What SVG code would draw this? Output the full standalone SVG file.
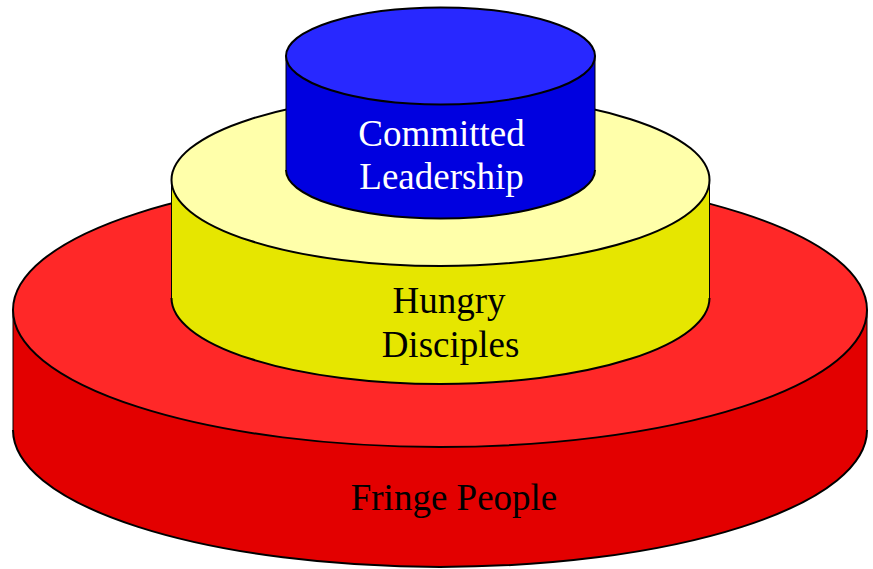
<svg xmlns="http://www.w3.org/2000/svg" width="873" height="569" viewBox="0 0 873 569">
<style>
.edge{fill:none;stroke:#000;stroke-width:2}
.vline{fill:none;stroke:#000;stroke-width:1}
.lbl{font-family:"Liberation Serif","Times New Roman",serif;font-size:37px;text-anchor:middle}
</style>
<rect width="873" height="569" fill="#fff"/>
<g id="fringe">
<path d="M13,310 L13,430 A427,137 0 0 0 867,430 L867,310 Z" fill="#E30000"/>
<path class="edge" d="M13,430 A427,137 0 0 0 867,430"/>
<path class="vline" d="M13,310 L13,430 M867,310 L867,430"/>
<ellipse cx="440" cy="310" rx="427" ry="137" fill="#FF2828" class="edge" style="fill:#FF2828"/>
<text class="lbl" x="454" y="510" fill="#000">Fringe People</text>
</g>
<g id="disciples">
<path d="M171.5,180 L171.5,298 A269,86 0 0 0 709.5,298 L709.5,180 Z" fill="#E6E600"/>
<path class="edge" d="M171.5,298 A269,86 0 0 0 709.5,298"/>
<path class="vline" d="M171.5,180 L171.5,298 M709.5,180 L709.5,298"/>
<ellipse cx="440.5" cy="180" rx="269" ry="86" class="edge" style="fill:#FFFFAA"/>
<text class="lbl" x="449" y="313" fill="#000">Hungry</text>
<text class="lbl" x="450.5" y="356.5" fill="#000">Disciples</text>
</g>
<g id="leadership">
<path d="M286,56 L286,170 A154.5,48.5 0 0 0 595,170 L595,56 Z" fill="#0000E0"/>
<path class="edge" d="M286,170 A154.5,48.5 0 0 0 595,170"/>
<path class="vline" d="M286,56 L286,170 M595,56 L595,170"/>
<ellipse cx="440.5" cy="56" rx="154.5" ry="48.5" class="edge" style="fill:#2828FF"/>
<text class="lbl" x="441.5" y="145.5" fill="#fff">Committed</text>
<text class="lbl" x="441.5" y="188.5" fill="#fff">Leadership</text>
</g>
<g id="connectors"/>
</svg>
